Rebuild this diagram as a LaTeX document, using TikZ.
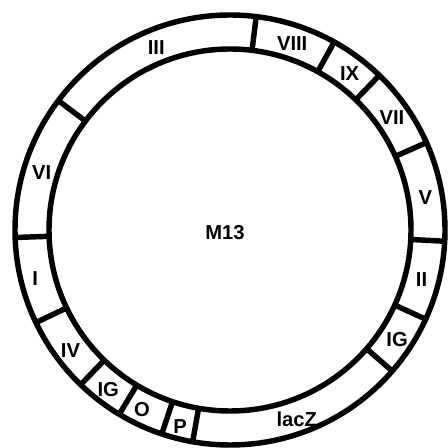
\documentclass[tikz,border=0pt]{standalone}
\usepackage{fontspec}
\setmainfont{Liberation Sans}
\begin{document}
\begin{tikzpicture}[
        x=0.02cm, y=0.02cm,
        anillo/.style={line width=3.1pt, draw=black},
        corte/.style={line width=3.1pt, draw=black},
        gen/.style={font=\fontsize{11.5}{13}\selectfont\bfseries, inner sep=0pt}
    ]
    \useasboundingbox (-230,-218) rectangle (217,230);
    \draw[anillo] (0,0) circle (215);
    \draw[anillo] (0,0) circle (181);
    % limites entre genes
    \foreach \ang in {143,83,61,46,24,-3,-24.5,-41,-100,-108.5,-121,-134,-154.5,-178}
        \draw[corte] (\ang:181) -- (\ang:215);

    \node[gen] (m13) at (-5,-3) {M13};

    \node[gen] (g3) at (112:197) {III};
    \node[gen] (g8) at (71.6:197) {VIII};
    \node[gen] (g9) at (52.6:197) {IX};
    \node[gen] (g7) at (34.7:197) {VII};
    \node[gen] (g5) at (9.4:198) {V};
    \node[gen] (g2) at (-14.6:198) {II};
    \node[gen] (igder) at (-33.3:200) {IG};
    \node[gen] (lacz) at (-70.6:201) {lacZ};
    \node[gen] (prom) at (255.8:203) {P};
    \node[gen] (oper) at (243.9:200) {O};
    \node[gen] (igizq) at (232.7:201) {IG};
    \node[gen] (g4) at (217.1:200) {IV};
    \node[gen] (g1) at (194.1:201) {I};
    \node[gen] (g6) at (162.9:197) {VI};
\end{tikzpicture}
\end{document}
